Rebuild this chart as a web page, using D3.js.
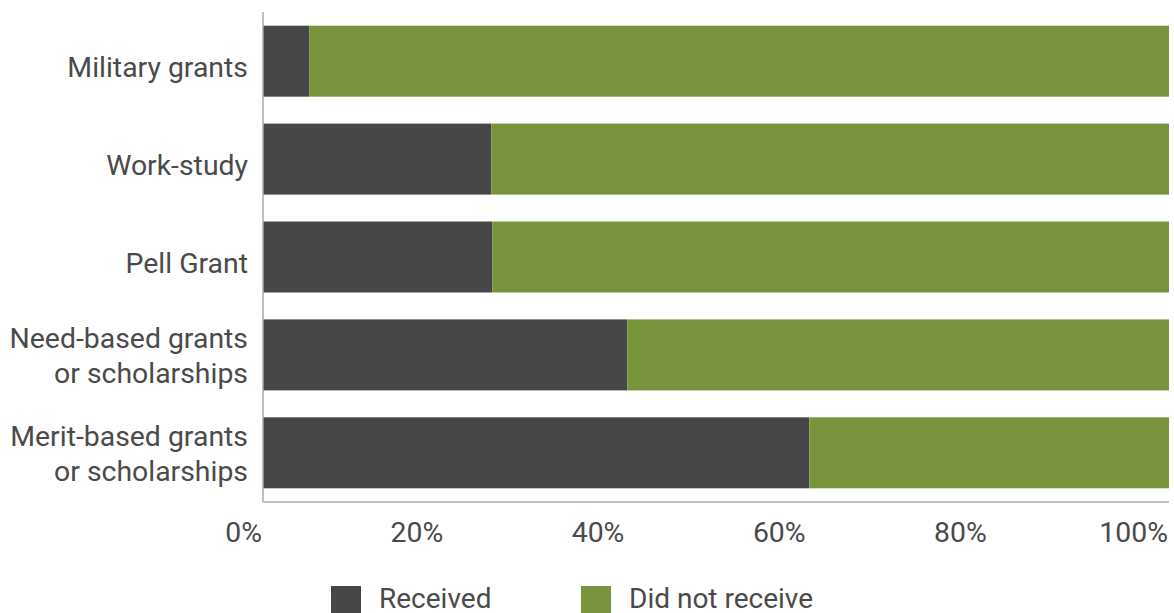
<!DOCTYPE html>
<html>
<head>
<meta charset="utf-8">
<script src="https://cdn.jsdelivr.net/npm/d3@7"></script>
<style>
  body { margin: 0; background: #fff; }
  text { font-family: Roboto, "Open Sans", sans-serif; fill: #4a4a4a; }
</style>
</head>
<body>
<div id="chart"></div>
<script>
// chart data
const categories = [
  ["Military grants"],
  ["Work-study"],
  ["Pell Grant"],
  ["Need-based grants", "or scholarships"],
  ["Merit-based grants", "or scholarships"]
];
const received = [5.1, 25.2, 25.3, 40.2, 60.3];
const notReceived = received.map(v => 100 - v);
const seriesNames = ["Received", "Did not receive"];
const seriesColors = ["#464648", "#77933c"];
const tickValues = [0, 20, 40, 60, 80, 100];

const width = 1174;
const height = 613;
const margin = { top: 12, right: 5, bottom: 111, left: 263 };

const svg = d3.select("#chart")
  .append("svg")
  .attr("width", width)
  .attr("height", height);

const rows = categories.map((c, i) => ({
  label: c,
  values: [received[i], notReceived[i]]
}));

const xScale = d3.scaleLinear()
  .domain([0, 100])
  .range([margin.left, width - margin.right]);

const yScale = d3.scaleBand()
  .domain(d3.range(categories.length))
  .range([margin.top, height - margin.bottom])
  .paddingInner(0.275)
  .paddingOuter(0.14);

// stacked bars
const stack = d3.stack().keys([0, 1]).value((d, k) => d.values[k]);
const layers = stack(rows);

svg.append("g")
  .attr("class", "bars")
  .selectAll("g")
  .data(layers)
  .join("g")
  .attr("fill", (d, i) => seriesColors[i])
  .selectAll("rect")
  .data(d => d)
  .join("rect")
  .attr("x", d => xScale(d[0]))
  .attr("y", (d, i) => yScale(i))
  .attr("width", d => xScale(d[1]) - xScale(d[0]))
  .attr("height", yScale.bandwidth());

// axis lines
svg.append("line")
  .attr("x1", xScale(0)).attr("x2", xScale(0))
  .attr("y1", margin.top).attr("y2", height - margin.bottom)
  .attr("stroke", "#aaaaaa").attr("stroke-width", 1.5);

svg.append("line")
  .attr("x1", xScale(0)).attr("x2", xScale(100))
  .attr("y1", height - margin.bottom).attr("y2", height - margin.bottom)
  .attr("stroke", "#aaaaaa").attr("stroke-width", 1.5);

// x tick labels (right aligned on tick)
svg.append("g")
  .selectAll("text")
  .data(tickValues)
  .join("text")
  .attr("x", d => xScale(d) - 1)
  .attr("y", 542)
  .attr("text-anchor", "end")
  .style("font-size", "28.4px")
  .text(d => d + "%");

// category labels
const labels = svg.append("g")
  .selectAll("text")
  .data(rows)
  .join("text")
  .attr("text-anchor", "end")
  .style("font-size", "28.4px")
  .attr("transform", (d, i) => `translate(248, ${yScale(i) + yScale.bandwidth() / 2})`);

labels.selectAll("tspan")
  .data(d => d.label.map((t, j) => ({ t, j, n: d.label.length })))
  .join("tspan")
  .attr("x", 0)
  .attr("y", d => d.n === 1 ? 16 : (d.j === 0 ? -6.5 : 28.5))
  .text(d => d.t);

// legend
const legendX = [331, 581];
const legend = svg.append("g")
  .selectAll("g")
  .data(seriesNames)
  .join("g")
  .attr("transform", (d, i) => `translate(${legendX[i]}, 586)`);

legend.append("rect")
  .attr("width", 30)
  .attr("height", 30)
  .attr("fill", (d, i) => seriesColors[i]);

legend.append("text")
  .attr("x", 48)
  .attr("y", 22)
  .style("font-size", "28px")
  .text(d => d);
</script>
</body>
</html>
